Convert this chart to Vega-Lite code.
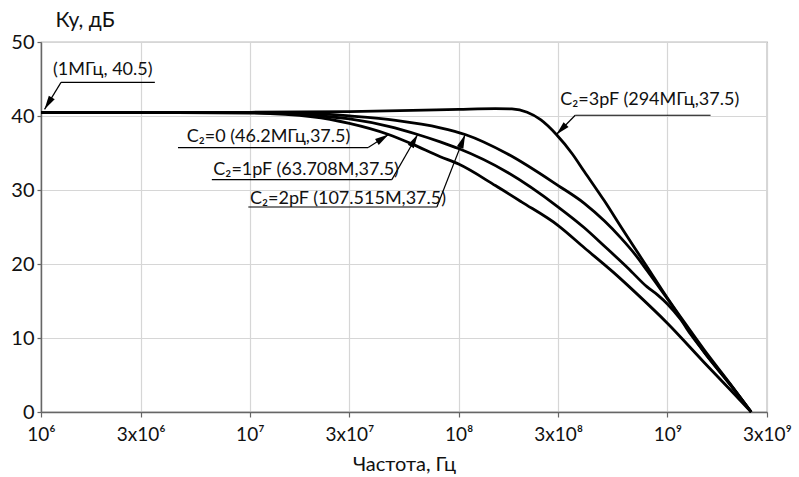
{
  "$schema": "https://vega.github.io/schema/vega-lite/v6.json",
  "width": 726,
  "height": 370,
  "autosize": "none",
  "padding": {"left": 41, "top": 42, "right": 32, "bottom": 65},
  "background": "white",
  "config": {
    "font": "Lato",
    "view": {"stroke": "#7a7a7a", "strokeWidth": 1.2},
    "axis": {
      "labelFont": "Lato",
      "titleFont": "Lato",
      "labelColor": "#111",
      "titleColor": "#111",
      "labelFontSize": 19,
      "titleFontSize": 20,
      "titleFontWeight": "normal",
      "gridColor": "#d6d6d6",
      "gridWidth": 1.2,
      "domainColor": "#666",
      "domainWidth": 1.4,
      "tickColor": "#666",
      "tickWidth": 1.2,
      "labelOverlap": false,
      "labelFlush": false,
      "labelBound": false
    }
  },
  "datasets": {
    "curves": [
      {"c": "0", "f": 1e6, "v": 40.5}, {"c": "0", "f": 3e6, "v": 40.5}, {"c": "0", "f": 1e7, "v": 40.4}, {"c": "0", "f": 2e7, "v": 39.9}, {"c": "0", "f": 3e7, "v": 39.0}, {"c": "0", "f": 4.62e7, "v": 37.5}, {"c": "0", "f": 6e7, "v": 36.2}, {"c": "0", "f": 8.17e7, "v": 34.5}, {"c": "0", "f": 1e8, "v": 33.5}, {"c": "0", "f": 1.5e8, "v": 30.6}, {"c": "0", "f": 2e8, "v": 28.4}, {"c": "0", "f": 3e8, "v": 25.2}, {"c": "0", "f": 4e8, "v": 22.2}, {"c": "0", "f": 5.5e8, "v": 18.9}, {"c": "0", "f": 7e8, "v": 16.2}, {"c": "0", "f": 1e9, "v": 12.0}, {"c": "0", "f": 1.5e9, "v": 6.7}, {"c": "0", "f": 2e9, "v": 3.0}, {"c": "0", "f": 2.52e9, "v": 0},
      {"c": "1", "f": 1e6, "v": 40.5}, {"c": "1", "f": 1e7, "v": 40.45}, {"c": "1", "f": 2e7, "v": 40.1}, {"c": "1", "f": 3e7, "v": 39.6}, {"c": "1", "f": 4.62e7, "v": 38.6}, {"c": "1", "f": 6.37e7, "v": 37.5}, {"c": "1", "f": 8.17e7, "v": 36.5}, {"c": "1", "f": 1e8, "v": 35.6}, {"c": "1", "f": 1.71e8, "v": 32.4}, {"c": "1", "f": 3e8, "v": 27.7}, {"c": "1", "f": 4e8, "v": 24.9}, {"c": "1", "f": 5e8, "v": 22.4}, {"c": "1", "f": 6.5e8, "v": 19.4}, {"c": "1", "f": 8e8, "v": 16.9}, {"c": "1", "f": 9e8, "v": 15.8}, {"c": "1", "f": 1e9, "v": 14.6}, {"c": "1", "f": 1.15e9, "v": 12.6}, {"c": "1", "f": 1.3e9, "v": 10.4}, {"c": "1", "f": 1.6e9, "v": 7.1}, {"c": "1", "f": 2e9, "v": 3.7}, {"c": "1", "f": 2.52e9, "v": 0},
      {"c": "2", "f": 1e6, "v": 40.5}, {"c": "2", "f": 1e7, "v": 40.5}, {"c": "2", "f": 2e7, "v": 40.35}, {"c": "2", "f": 3e7, "v": 40.0}, {"c": "2", "f": 5e7, "v": 39.4}, {"c": "2", "f": 8.17e7, "v": 38.4}, {"c": "2", "f": 1.075e8, "v": 37.5}, {"c": "2", "f": 1.71e8, "v": 34.9}, {"c": "2", "f": 3e8, "v": 30.6}, {"c": "2", "f": 4e8, "v": 28.2}, {"c": "2", "f": 5e8, "v": 25.8}, {"c": "2", "f": 6e8, "v": 23.5}, {"c": "2", "f": 7e8, "v": 21.3}, {"c": "2", "f": 8e8, "v": 19.1}, {"c": "2", "f": 9e8, "v": 17.1}, {"c": "2", "f": 1e9, "v": 15.3}, {"c": "2", "f": 1.25e9, "v": 11.3}, {"c": "2", "f": 1.5e9, "v": 8.1}, {"c": "2", "f": 2e9, "v": 3.7}, {"c": "2", "f": 2.52e9, "v": 0},
      {"c": "3", "f": 1e6, "v": 40.5}, {"c": "3", "f": 1e7, "v": 40.5}, {"c": "3", "f": 3e7, "v": 40.6}, {"c": "3", "f": 6e7, "v": 40.75}, {"c": "3", "f": 1e8, "v": 40.9}, {"c": "3", "f": 1.5e8, "v": 41.0}, {"c": "3", "f": 1.8e8, "v": 40.95}, {"c": "3", "f": 2.13e8, "v": 40.5}, {"c": "3", "f": 2.47e8, "v": 39.5}, {"c": "3", "f": 2.94e8, "v": 37.5}, {"c": "3", "f": 3.5e8, "v": 34.9}, {"c": "3", "f": 4e8, "v": 32.5}, {"c": "3", "f": 5e8, "v": 28.5}, {"c": "3", "f": 6e8, "v": 25.0}, {"c": "3", "f": 7e8, "v": 22.1}, {"c": "3", "f": 8e8, "v": 19.6}, {"c": "3", "f": 1e9, "v": 15.4}, {"c": "3", "f": 1.25e9, "v": 11.5}, {"c": "3", "f": 1.5e9, "v": 8.4}, {"c": "3", "f": 2e9, "v": 3.8}, {"c": "3", "f": 2.52e9, "v": 0}
    ],
    "notes": [
      {"label": "(1МГц, 40.5)", "tx": 1.142e6, "ty": 46.2, "jx": 1.247e6, "ex": 3.51e6, "hy": 44.55, "px": 1.04e6, "py": 40.9},
      {"label": "C₂=0 (46.2МГц,37.5)", "tx": 4.99e6, "ty": 37.2, "jx": 3.69e7, "ex": 4.53e6, "hy": 35.73, "px": 4.62e7, "py": 37.5},
      {"label": "C₂=1pF (63.708M,37.5)", "tx": 6.69e6, "ty": 32.66, "jx": 4.79e7, "ex": 6.58e6, "hy": 31.4, "px": 6.37e7, "py": 37.5},
      {"label": "C₂=2pF (107.515M,37.5)", "tx": 1.003e7, "ty": 28.84, "jx": 7.87e7, "ex": 9.84e6, "hy": 27.7, "px": 1.075e8, "py": 37.5},
      {"label": "C₂=3pF (294МГц,37.5)", "tx": 3.07e8, "ty": 42.1, "jx": 3.62e8, "ex": 1.61e9, "hy": 40.1, "px": 2.94e8, "py": 37.5}
    ]
  },
  "layer": [
    {
      "data": {"name": "curves"},
      "mark": {"type": "line", "color": "black", "strokeWidth": 2.8, "interpolate": "monotone"},
      "encoding": {
        "x": {
          "field": "f", "type": "quantitative",
          "scale": {"type": "log", "domain": [1e6, 3e9], "nice": false},
          "axis": {
            "values": [1e6, 3e6, 1e7, 3e7, 1e8, 3e8, 1e9, 3e9],
            "labelExpr": "datum.value < 2e6 ? '10⁶' : datum.value < 5e6 ? '3x10⁶' : datum.value < 2e7 ? '10⁷' : datum.value < 5e7 ? '3x10⁷' : datum.value < 2e8 ? '10⁸' : datum.value < 5e8 ? '3x10⁸' : datum.value < 2e9 ? '10⁹' : '3x10⁹'",
            "tickSize": 5,
            "labelPadding": 8,
            "title": "Частота, Гц",
            "titlePadding": 10
          }
        },
        "y": {
          "field": "v", "type": "quantitative",
          "scale": {"domain": [0, 50], "nice": false},
          "axis": {
            "values": [0, 10, 20, 30, 40, 50],
            "tickSize": 4,
            "labelPadding": 3,
            "labelFontSize": 20,
            "title": "Ку, дБ",
            "titleFontSize": 21,
            "titleAngle": 0,
            "titleAlign": "left",
            "titleBaseline": "middle",
            "titleX": 14,
            "titleY": -22
          }
        },
        "detail": {"field": "c", "type": "nominal"}
      }
    },
    {
      "data": {"name": "notes"},
      "mark": {"type": "rule", "color": "black", "strokeWidth": 1.2},
      "encoding": {
        "x": {"field": "ex", "type": "quantitative"},
        "x2": {"field": "jx"},
        "y": {"field": "hy", "type": "quantitative"}
      }
    },
    {
      "data": {"name": "notes"},
      "mark": {"type": "rule", "color": "black", "strokeWidth": 1.2},
      "encoding": {
        "x": {"field": "jx", "type": "quantitative"},
        "x2": {"field": "px"},
        "y": {"field": "hy", "type": "quantitative"},
        "y2": {"field": "py"}
      }
    },
    {
      "data": {"name": "notes"},
      "transform": [
        {"calculate": "atan2((log(datum.px) - log(datum.jx)) / LN10 * 208.7, (datum.py - datum.hy) * 7.4) * 180 / PI", "as": "ang"}
      ],
      "mark": {"type": "point", "shape": "M0,0L-0.4,1.6L0.4,1.6Z", "filled": true, "color": "black", "opacity": 1, "size": 300},
      "encoding": {
        "x": {"field": "px", "type": "quantitative"},
        "y": {"field": "py", "type": "quantitative"},
        "angle": {"field": "ang", "type": "quantitative", "scale": null}
      }
    },
    {
      "data": {"name": "notes"},
      "mark": {"type": "text", "align": "left", "baseline": "middle", "fontSize": 18, "font": "Lato", "color": "#111"},
      "encoding": {
        "x": {"field": "tx", "type": "quantitative"},
        "y": {"field": "ty", "type": "quantitative"},
        "text": {"field": "label"}
      }
    }
  ]
}
